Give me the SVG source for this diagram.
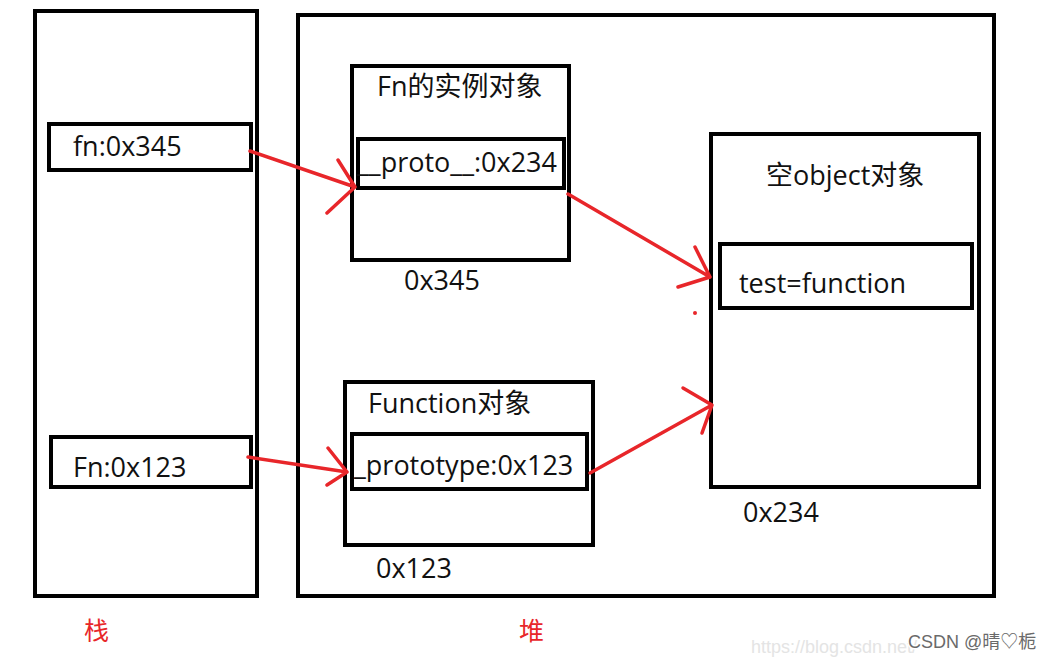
<svg xmlns="http://www.w3.org/2000/svg" width="1055" height="663" viewBox="0 0 1055 663">
<style>
.box{fill:none;stroke:#000;stroke-width:4}
.t{font-family:"Open Sans","Noto Sans","Noto Sans CJK SC",sans-serif;font-size:27px;fill:#111}
.red{font-family:"Noto Sans CJK SC",sans-serif;font-size:25px;fill:#e8262a}
.ar{fill:none;stroke:#e8262a;stroke-width:3.5;stroke-linecap:round;stroke-linejoin:round}
.wm{font-family:"Liberation Sans","Noto Sans CJK SC",sans-serif;font-size:18px}
</style>
<rect width="1055" height="663" fill="#fff"/>
<g id="stack">
<rect class="box" x="35" y="11" width="222" height="585"/>
<text class="red" x="84" y="640">栈</text>
</g>
<g id="heap">
<rect class="box" x="298" y="15" width="696" height="581"/>
<text class="red" x="519" y="640">堆</text>
</g>
<g id="fn-var">
<rect class="box" x="49" y="124" width="202" height="46"/>
<text class="t" x="73" y="156">fn:0x345</text>
</g>
<g id="Fn-var">
<rect class="box" x="51" y="437" width="200" height="50"/>
<text class="t" x="73" y="477">Fn:0x123</text>
</g>
<g id="fn-instance">
<rect class="box" x="352" y="66" width="217" height="194"/>
<text class="t" x="377" y="96">Fn的实例对象</text>
<rect class="box" x="358" y="139" width="206" height="49"/>
<text class="t" x="357" y="172">__proto__:0x234</text>
<text class="t" x="404" y="290">0x345</text>
</g>
<g id="function-obj">
<rect class="box" x="345" y="382" width="248" height="163"/>
<text class="t" x="368" y="413">Function对象</text>
<rect class="box" x="352" y="434" width="235" height="55"/>
<text class="t" x="354" y="475">_prototype:0x123</text>
<text class="t" x="376" y="578">0x123</text>
</g>
<g id="empty-obj">
<rect class="box" x="711" y="134" width="268" height="353"/>
<text class="t" x="766" y="185">空object对象</text>
<rect class="box" x="720" y="244" width="252" height="64"/>
<text class="t" x="739" y="293">test=function</text>
<text class="t" x="743" y="522">0x234</text>
</g>
<g id="connectors">
<path class="ar" d="M250 151 L355 187 M338 160 L355 187 L327 213"/>
<path class="ar" d="M568 194 L710 277 M695 247 L710 277 L678 287"/>
<path class="ar" d="M248 457 L347 472 M328 448 L347 472 L327 485"/>
<path class="ar" d="M590 473 L712 405 M683 388 L712 405 L702 433"/>
<circle cx="695" cy="313" r="2" fill="#e8262a"/>
</g>
<g id="watermark">
<text class="wm" x="751" y="653" fill="#e4e4e4">https://blog.csdn.net/</text>
<text class="wm" x="908" y="648" fill="#fff" stroke="#fff" stroke-width="3">CSDN @晴♡栀</text>
<text class="wm" x="908" y="648" fill="#6a6a6a">CSDN @晴♡栀</text>
</g>
</svg>
